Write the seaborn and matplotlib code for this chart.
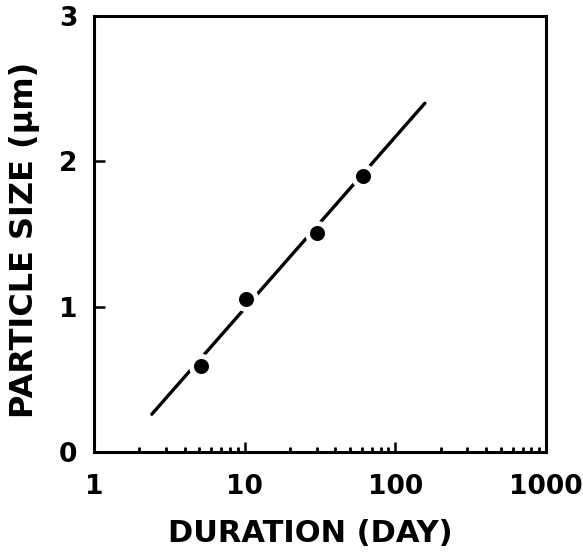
import matplotlib
matplotlib.use("Agg")
import matplotlib.pyplot as plt
import matplotlib.ticker as mticker
import seaborn as sns
import pandas as pd

# measured points
duration = [5.1, 10.2, 30.4, 61.0]
size_um = [0.59, 1.05, 1.51, 1.90]

# fitted line (ends)
fit_x = [2.42, 157.0]
fit_y = [0.26, 2.40]

sns.set_theme(style="ticks")
plt.rcParams['font.family'] = ['DejaVu Sans']
plt.rcParams['font.weight'] = 'bold'
plt.rcParams['text.color'] = 'black'
plt.rcParams['axes.labelcolor'] = 'black'
plt.rcParams['xtick.color'] = 'black'
plt.rcParams['ytick.color'] = 'black'

fig = plt.figure(figsize=(5.83, 5.53), dpi=100)
ax = fig.add_axes([0.1612, 0.1826, 0.7753, 0.7884])

pts = pd.DataFrame({"x": duration, "y": size_um})
fit = pd.DataFrame({"x": fit_x, "y": fit_y})

sns.lineplot(data=fit, x="x", y="y", ax=ax, color="black", lw=2.4, zorder=2)
sns.scatterplot(data=pts, x="x", y="y", ax=ax, color="black", s=207,
                edgecolor="white", linewidth=3.6, zorder=3)

ax.set_xscale("log")
ax.set_xlim(1, 1000)
ax.set_ylim(0, 3)
ax.set_xticks([1, 10, 100, 1000])
ax.xaxis.set_major_formatter(mticker.FuncFormatter(lambda v, p: f"{v:g}"))
ax.xaxis.set_minor_locator(mticker.LogLocator(base=10, subs=range(2, 10)))
ax.xaxis.set_minor_formatter(mticker.NullFormatter())
ax.set_yticks([0, 1, 2, 3])

ax.tick_params(axis="x", which="major", direction="in", length=7, width=1.8, pad=16,
               labelsize=19, top=False, colors="black")
ax.tick_params(axis="x", which="minor", direction="in", length=3.8, width=2.0, top=False,
               colors="black")
ax.tick_params(axis="y", which="major", direction="in", length=8, width=1.8, pad=12,
               labelsize=19, right=False, colors="black")
for lab in ax.get_xticklabels() + ax.get_yticklabels():
    lab.set_fontweight("bold")

for s in ax.spines.values():
    s.set_linewidth(2.2)
    s.set_color("black")

ax.set_xlabel("DURATION (DAY)", fontsize=22, fontweight="bold", color="black")
ax.set_ylabel("PARTICLE SIZE (μm)", fontsize=23, fontweight="bold", color="black")
ax.xaxis.label.set_va("center")
ax.yaxis.label.set_va("center")
ax.xaxis.set_label_coords(0.478, -0.188)
ax.yaxis.set_label_coords(-0.153, 0.486)

fig.savefig("out.png", dpi=100)
